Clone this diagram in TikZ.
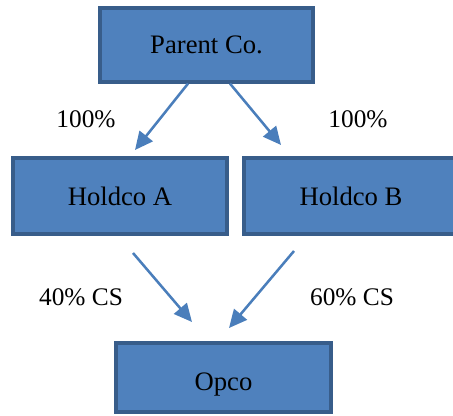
\documentclass[tikz,border=0pt]{standalone}
\usepackage{fontspec}
\setmainfont{Liberation Serif}
\usetikzlibrary{arrows.meta,calc}
\definecolor{boxfill}{HTML}{4F81BD}
\definecolor{boxline}{HTML}{385D8A}
\definecolor{arrowc}{HTML}{4A7EBB}
\tikzset{
  entity/.style={draw=boxline, fill=boxfill, line width=2.4pt, rectangle,
    inner sep=0pt, font=\fontsize{20}{24}\selectfont},
  arr/.style={draw=arrowc, line width=1.9pt, -{Triangle[length=13.5pt,width=12.5pt]}},
  pct/.style={font=\fontsize{19}{23}\selectfont, inner sep=0pt}
}
\begin{document}
\begin{tikzpicture}[x=0.75pt,y=-0.75pt]
\useasboundingbox (0,0) rectangle (453,416);
\clip (0,0) rectangle (453,416);
\node[entity, minimum width=213*0.75pt, minimum height=74*0.75pt] (parent) at (206.5,45) {Parent Co.};
\node[entity, minimum width=214*0.75pt, minimum height=76*0.75pt] (hA) at (120,196) {Holdco A};
\node[entity, minimum width=214*0.75pt, minimum height=76*0.75pt] (hB) at (351,196) {Holdco B};
\node[entity, minimum width=215*0.75pt, minimum height=69*0.75pt, text depth=0pt, text height=20pt] (opco) at (223.5,377.5) {Opco};
\coordinate (tA) at (135,150);
\coordinate (tB) at (281,145);
\coordinate (sA) at (133,253);
\coordinate (sB) at (294,251);
\coordinate (tO1) at (192,322);
\coordinate (tO2) at (229,328);
\draw[arr] ($(parent.south)+(-18.5,0)$) -- (tA);
\draw[arr] ($(parent.south)+(23.5,0)$) -- (tB);
\draw[arr] (sA) -- (tO1);
\draw[arr] (sB) -- (tO2);
\node[pct] (l1) at (86,119) {100\%};
\node[pct] (l2) at (358,119) {100\%};
\node[pct] (l3) at (81,297) {40\% CS};
\node[pct] (l4) at (352,297) {60\% CS};
\end{tikzpicture}
\end{document}
